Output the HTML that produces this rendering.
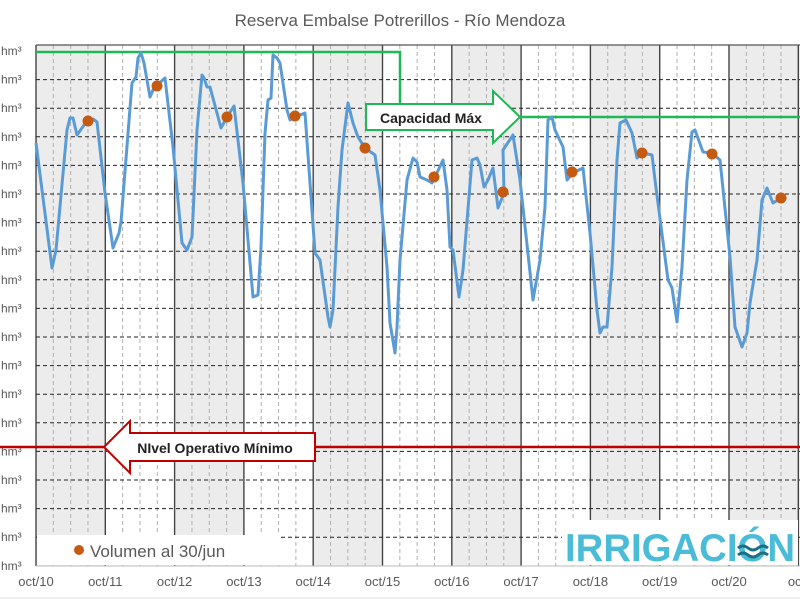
<!DOCTYPE html>
<html><head><meta charset="utf-8"><style>
html,body{margin:0;padding:0;background:#fff;}
svg{display:block;font-family:"Liberation Sans",sans-serif;}
</style></head><body>
<svg width="800" height="600" viewBox="0 0 800 600" xmlns="http://www.w3.org/2000/svg">
<rect width="800" height="600" fill="#fff"/>
<text x="400" y="26" text-anchor="middle" font-size="17" fill="#595959">Reserva Embalse Potrerillos - Río Mendoza</text>
<g fill="#ececec">
<rect x="36" y="45" width="69.3" height="521"/>
<rect x="174.6" y="45" width="69.3" height="521"/>
<rect x="313.2" y="45" width="69.3" height="521"/>
<rect x="451.8" y="45" width="69.3" height="521"/>
<rect x="590.4" y="45" width="69.3" height="521"/>
<rect x="729" y="45" width="71" height="521"/>
</g>
<g stroke="#b0b0b0" stroke-width="1" stroke-dasharray="4,3" id="minor"></g>
<g stroke="#444" stroke-width="1.4" id="major"></g>
<g stroke="#222" stroke-width="1" stroke-dasharray="4,3" id="hgrid"></g>
<line x1="36" y1="45" x2="800" y2="45" stroke="#555" stroke-width="1.2"/>
<line x1="36" y1="566" x2="800" y2="566" stroke="#bbb" stroke-width="1"/>
<g font-size="12" fill="#595959" id="ylab"></g>
<g font-size="13" fill="#595959" text-anchor="middle" id="xlab"></g>
<polyline points="36,52 400,52 400,117 800,117" fill="none" stroke="#1db954" stroke-width="2.5"/>
<line x1="0" y1="447" x2="800" y2="447" stroke="#c00000" stroke-width="2.5"/>
<polyline fill="none" stroke="#5b9bd5" stroke-width="3" stroke-linejoin="round" points="
36,143 52,268 56,250 67,130 70,118 73,118 77,135 87,121 93,119 97,122 105,193 113,248 119,233 121,222 132,83 136,77 138,58 141,53 144,63 150,97 153,90 157,85 165,78 173,147 182,243 187,250 192,237 197,130 202,75 204,78 207,87 210,87 221,128 227,117 234,106 243,183 253,297 258,295 261,247 265,133 268,100 271,98 273,55 277,58 280,63 287,110 290,120 295,117 305,113 315,253 320,260 328,317 330,327 333,310 338,207 342,150 348,103 353,123 358,137 365,148 375,155 380,190 387,267 390,323 395,353 397,327 400,260 407,180 413,158 417,162 420,177 427,180 432,183 435,177 443,160 447,190 450,247 453,250 459,297 463,270 472,160 477,158 480,165 484,187 488,180 493,168 498,208 504,193 503,150 513,135 520,180 533,300 540,260 545,207 548,120 552,117 555,130 563,147 567,180 573,173 583,168 590,233 597,310 600,333 603,327 607,327 612,267 617,160 620,123 626,120 632,133 637,158 643,153 652,155 655,180 668,280 672,288 677,322 682,267 687,180 692,132 695,130 703,152 712,153 720,160 730,257 735,327 742,347 747,333 750,303 757,260 762,200 767,188 773,203 781,198"/>
<g fill="#c55a11">
<circle cx="88" cy="121" r="5.5"/><circle cx="157" cy="86" r="5.5"/><circle cx="227" cy="117" r="5.5"/><circle cx="295" cy="116" r="5.5"/><circle cx="365" cy="148" r="5.5"/><circle cx="434" cy="177" r="5.5"/><circle cx="503" cy="192" r="5.5"/><circle cx="572" cy="172" r="5.5"/><circle cx="642" cy="153" r="5.5"/><circle cx="712" cy="154" r="5.5"/><circle cx="781" cy="198" r="5.5"/>
</g>
<path d="M366,104 H493 V91 L520,117 L493,143 V130 H366 Z" fill="#fff" stroke="#1db954" stroke-width="2"/>
<text x="431" y="123" text-anchor="middle" font-size="14" font-weight="bold" fill="#222">Capacidad  Máx</text>
<path d="M315,433 H130 V421 L104,447 L130,473 V461 H315 Z" fill="#fff" stroke="#c00000" stroke-width="2"/>
<text x="215" y="453" text-anchor="middle" font-size="14" font-weight="bold" fill="#222">NIvel Operativo Mínimo</text>
<rect x="37" y="535" width="243" height="30" fill="#fff"/>
<circle cx="79" cy="550" r="5" fill="#c55a11"/>
<text x="90" y="557" font-size="17" fill="#595959">Volumen al 30/jun</text>
<rect x="562" y="520" width="236" height="45" fill="#fff"/>
<text x="565" y="561" font-size="39" font-weight="bold" fill="#4bbcd8" textLength="230" lengthAdjust="spacingAndGlyphs">IRRIGACIÓN</text>
<g fill="none" stroke="#1a6f80" stroke-width="3"><path d="M738,548 q5,-4 10,0 t10,0 t10,0"/><path d="M738,555 q5,-4 10,0 t10,0 t10,0"/></g>
<line x1="0" y1="598" x2="800" y2="598" stroke="#ddd"/>
<script>
(function(){
var ns="http://www.w3.org/2000/svg";
function el(p,t,a,txt){var e=document.createElementNS(ns,t);for(var k in a)e.setAttribute(k,a[k]);if(txt)e.textContent=txt;document.getElementById(p).appendChild(e);}
var x0=36,dx=69.3;
for(var i=0;i<=11*4;i++){var x=x0+i*dx/4;if(x>800)break;if(i%4==0){if(i>0)el("major","line",{x1:x,y1:45,x2:x,y2:566});}else el("minor","line",{x1:x,y1:45,x2:x,y2:566});}
el("major","line",{x1:36,y1:45,x2:36,y2:566});
for(var k=0;k<=18;k++){var y=51+k*28.6;if(k>0&&k<18)el("hgrid","line",{x1:36,y1:y,x2:800,y2:y});el("ylab","text",{x:1,y:y+4},"hm³");}
for(var j=0;j<=11;j++){var x=x0+j*dx;var t=j<11?"oct/"+(10+j):"oct/";el("xlab","text",{x:x,y:586},t);}
})();
</script>
</svg>
</body></html>
